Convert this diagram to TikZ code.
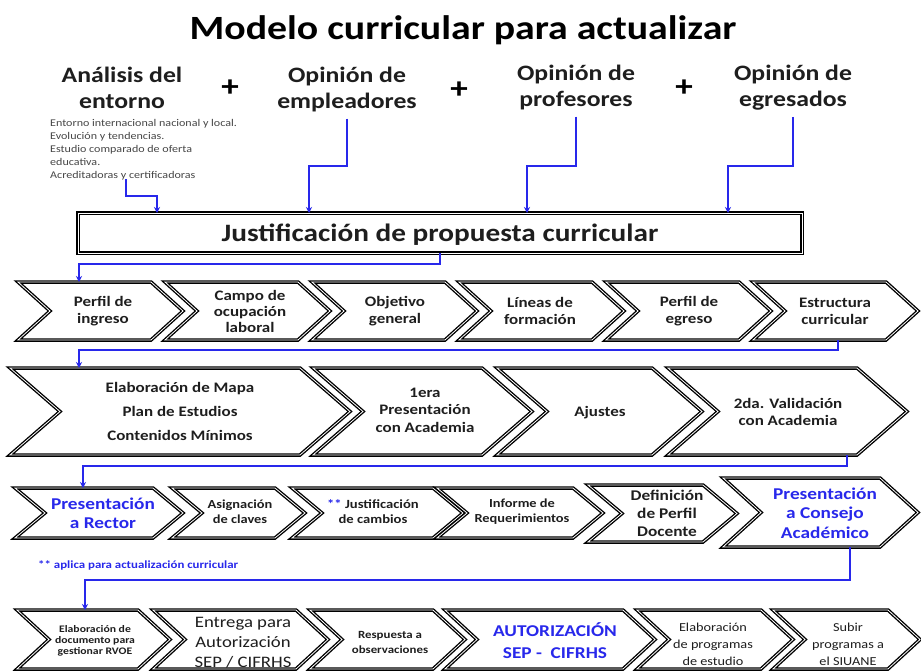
\documentclass[tikz,border=0pt]{standalone}
\usepackage{fontspec}
\setmainfont{Carlito}[FakeStretch=1.17]
\usetikzlibrary{arrows.meta}
\definecolor{myblue}{RGB}{40,40,235}
\definecolor{txt}{RGB}{30,30,30}
\definecolor{smalltxt}{RGB}{70,70,70}
% #1 name, #2 left, #3 right(tip), #4 top, #5 bottom, #6 depth
\newcommand\chev[6]{%
  \draw[chevbox] (#2,#4) -- ({#3-#6},#4) -- (#3,{(#4+#5)/2}) -- ({#3-#6},#5) -- (#2,#5) -- ({#2+#6},{(#4+#5)/2}) -- cycle;
  \coordinate (#1) at ({(#2+#3)/2},{(#4+#5)/2});
}
\tikzset{
  chevbox/.style={draw=black, line width=1.35pt, double=white, double distance=0.8pt, fill=white, line join=miter},
  conn/.style={draw=myblue, line width=1.3pt, -{Stealth[length=6pt,width=6pt]}},
  head/.style={text=txt, align=center, inner sep=0pt, font=\bfseries\fontsize{22}{26}\selectfont},
  lbl/.style={text=txt, align=center, inner sep=0pt},
  plus/.style={text=black, inner sep=0pt, font=\bfseries\fontsize{30}{30}\selectfont},
}
\begin{document}
\begin{tikzpicture}[x=1pt,y=-1pt]
\useasboundingbox (0,0) rectangle (921,671);
\fill[white] (0,0) rectangle (921,671);

% title
\node[text=black, inner sep=0pt, font=\bfseries\fontsize{34}{34}\selectfont] (title) at (463,30) {Modelo curricular para actualizar};

% headers
\node[head] (h1) at (122,88) {Análisis del\\entorno};
\node[plus] (p1) at (230,88) {+};
\node[head] (h2) at (347,90) {Opinión de\\empleadores};
\node[plus] (p2) at (459,90) {+};
\node[head] (h3) at (576,88) {Opinión de\\profesores};
\node[plus] (p3) at (684,88) {+};
\node[head] (h4) at (793,88) {Opinión de\\egresados};

\node[text=smalltxt, align=left, anchor=north west, inner sep=0pt, font=\fontsize{10.3}{13}\selectfont] (ent) at (50,119)
  {Entorno internacional nacional y local.\\Evolución y tendencias.\\Estudio comparado de oferta\\educativa.\\Acreditadoras y certificadoras};

% justification box
\node[chevbox, minimum width=724pt, minimum height=40pt, inner sep=0pt] (J) at (440,233) {};
\node[text=txt, inner sep=0pt, font=\bfseries\fontsize{25}{25}\selectfont] (Jt) at (440,235) {Justificación de propuesta curricular};

\coordinate (e1) at (126,179);
\coordinate (j1) at (157,213);
\coordinate (j2) at (309,213);
\coordinate (j3) at (527,213);
\coordinate (j4) at (728,213);
\draw[conn] (e1) -- (126,196) -| (j1);
\draw[conn] ([yshift=-6pt]h2.south) |- (309,166) -- (j2);
\draw[conn] ([yshift=-6pt]h3.south) |- (527,166) -- (j3);
\draw[conn] ([yshift=-6pt]h4.south) |- (728,166) -- (j4);

% row 1
\chev{r1a}{18}{183}{282}{340}{32}
\chev{r1b}{165}{330}{282}{340}{32}
\chev{r1c}{312}{477}{282}{340}{32}
\chev{r1d}{459}{624}{282}{340}{32}
\chev{r1e}{606}{771}{282}{340}{32}
\chev{r1f}{753}{918}{282}{340}{32}
\tikzset{r1/.style={lbl, font=\bfseries\fontsize{14.5}{17}\selectfont}}
\node[r1] (t1a) at (103,311) {Perfil de\\ingreso};
\node[r1, font=\bfseries\fontsize{14.5}{16}\selectfont] (t1b) at (250,311) {Campo de\\ocupación\\laboral};
\node[r1] (t1c) at (395,311) {Objetivo\\general};
\node[r1] (t1d) at (540,311) {Líneas de\\formación};
\node[r1] (t1e) at (689,311) {Perfil de\\egreso};
\node[r1] (t1f) at (835,311) {Estructura\\curricular};

\coordinate (jb) at (440,253);
\coordinate (a2) at (79,282);
\draw[conn] (jb) -- (440,264) -| (a2);

% row 2
\chev{r2a}{10}{350}{368}{455}{50}
\chev{r2b}{313}{532}{368}{455}{50}
\chev{r2c}{497}{702}{368}{455}{50}
\chev{r2d}{668}{907}{368}{455}{50}
\coordinate (s1) at (838,340);
\coordinate (a3) at (79,368);
\draw[conn] (s1) -- (838,350) -| (a3);
\tikzset{r2/.style={lbl, font=\bfseries\fontsize{14.5}{17.5}\selectfont}}
\node[r2, font=\bfseries\fontsize{14.5}{24}\selectfont] (t2a) at (180,411) {Elaboración de Mapa\\Plan de Estudios\\Contenidos Mínimos};
\node[r2] (t2b) at (425,410) {1era\\Presentación\\con Academia};
\node[r2] (t2c) at (600,413) {Ajustes};
\node[r2] (t2d) at (788,412) {2da. Validación\\con Academia};

% row 3
\chev{r3a}{15}{183}{488}{538}{30}
\chev{r3b}{172}{305}{488}{538}{30}
\chev{r3c}{292}{463}{488}{538}{30}
\chev{r3d}{437}{603}{488}{538}{30}
\chev{r3e}{588}{737}{485}{542}{34}
\chev{r3f}{723}{918}{478}{547}{38}
\coordinate (s2) at (847,455);
\coordinate (a4) at (83,488);
\draw[conn] (s2) -- (847,466) -| (a4);
\node[lbl, text=myblue, font=\bfseries\fontsize{16.5}{19}\selectfont] (t3a) at (103,513) {Presentación\\a Rector};
\node[lbl, font=\bfseries\fontsize{12.3}{15}\selectfont] (t3b) at (240,512) {Asignación\\de claves};
\node[lbl, font=\bfseries\fontsize{12.5}{15}\selectfont] (t3c) at (373,512) {\textcolor{myblue}{**} Justificación\\de cambios};
\node[lbl, font=\bfseries\fontsize{12.3}{15}\selectfont] (t3d) at (522,512) {Informe de\\Requerimientos};
\node[lbl, font=\bfseries\fontsize{14.8}{18}\selectfont] (t3e) at (667,513) {Definición\\de Perfil\\Docente};
\node[lbl, text=myblue, font=\bfseries\fontsize{16.5}{19.5}\selectfont] (t3f) at (825,513) {Presentación\\a Consejo\\Académico};

\node[text=myblue, anchor=west, inner sep=0pt, font=\bfseries\fontsize{11}{13}\selectfont] (note) at (38,565) {** aplica para actualización curricular};

% row 4
\chev{r4a}{17}{170}{610}{669}{32}
\chev{r4b}{153}{328}{610}{669}{32}
\chev{r4c}{310}{465}{610}{669}{32}
\chev{r4d}{445}{655}{610}{669}{32}
\chev{r4e}{637}{793}{610}{669}{32}
\chev{r4f}{773}{920}{610}{669}{32}
\coordinate (s3) at (850,547);
\coordinate (a5) at (85,610);
\draw[conn] (s3) -- (850,580) -| (a5);
\node[lbl, font=\bfseries\fontsize{10}{11}\selectfont] (t4a) at (95,641) {Elaboración de\\documento para\\gestionar RVOE};
\node[lbl, font=\fontsize{16}{20}\selectfont] (t4b) at (243,643) {Entrega para\\Autorización\\SEP / CIFRHS};
\node[lbl, font=\bfseries\fontsize{11}{15}\selectfont] (t4c) at (390,642) {Respuesta a\\observaciones};
\node[lbl, text=myblue, font=\bfseries\fontsize{16.5}{22}\selectfont] (t4d) at (555,641) {AUTORIZACIÓN\\SEP -\ \ CIFRHS};
\node[lbl, font=\fontsize{12.2}{17}\selectfont] (t4e) at (713,644) {Elaboración\\de programas\\de estudio};
\node[lbl, font=\fontsize{12.2}{17}\selectfont] (t4f) at (848,644) {Subir\\programas a\\el SIUANE};
\end{tikzpicture}
\end{document}
